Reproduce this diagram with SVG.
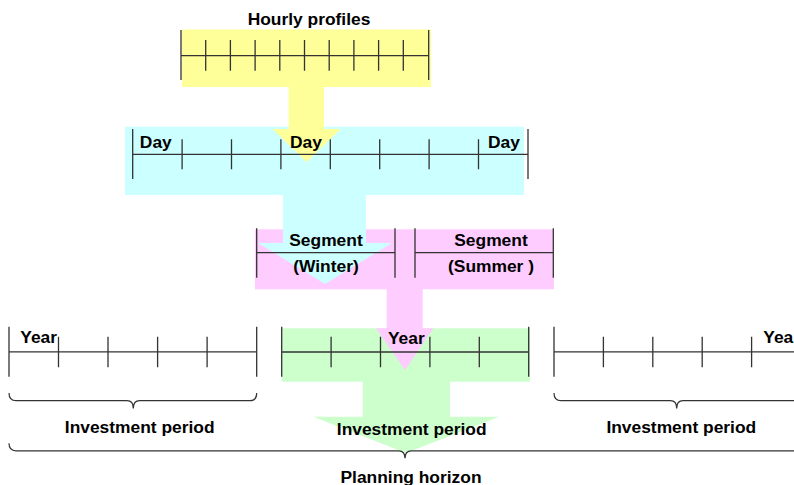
<svg xmlns="http://www.w3.org/2000/svg" width="794" height="485" viewBox="0 0 794 485">
<style>
.ln{stroke:#333;stroke-width:1.3;fill:none}
.br{stroke:#333;stroke-width:1.2;fill:none}
.t{font-family:"Liberation Sans",Arial,sans-serif;font-weight:bold;font-size:17.4px;fill:#000;text-anchor:middle}
.s{text-anchor:start}
</style>
<rect width="794" height="485" fill="#fff"/>
<g id="bands">
<rect x="281.7" y="328.3" width="248.3" height="53.4" fill="#CCFFCC"/>
<rect x="255" y="229.3" width="299" height="60" fill="#FFCCFF"/>
<rect x="125" y="126.7" width="399" height="68.3" fill="#CCFFFF"/>
<rect x="182" y="29.5" width="249" height="57.5" fill="#FFFF99"/>
</g>
<g id="connectors">
<polygon points="362.7,381 450,381 450,416.7 499.3,416.7 406,453 313.3,416.7 362.7,416.7" fill="#CCFFCC"/>
<polygon points="386.7,289 422.7,289 422.7,328.3 433.3,328.3 405,370 376,328.3 386.7,328.3" fill="#FFCCFF"/>
<polygon points="283,194.5 366,194.5 366,243 392,243 325,284 258,243 283,243" fill="#CCFFFF"/>
<polygon points="288.7,86.5 324,86.5 324,129 340.7,129 306.5,162 272.7,129 288.7,129" fill="#FFFF99"/>
</g>
<g id="hourly">
<path class="ln" d="M181,30V80M428.7,30V80M181,55.7H428.7M205.7,40V70.7M230.4,40V70.7M255.1,40V70.7M279.8,40V70.7M304.5,40V70.7M329.2,40V70.7M353.9,40V70.7M378.6,40V70.7M403.3,40V70.7"/>
<text class="t" x="309" y="25">Hourly profiles</text>
</g>
<g id="day">
<path class="ln" d="M132.7,129V179M528,129V179M132.7,154.3H528M182.1,139.3V169.3M231.5,139.3V169.3M280.9,139.3V169.3M330.3,139.3V169.3M379.7,139.3V169.3M429.1,139.3V169.3M478.5,139.3V169.3"/>
<text class="t" x="155.8" y="148">Day</text>
<text class="t" x="306" y="148">Day</text>
<text class="t" x="504" y="148">Day</text>
</g>
<g id="segment-winter">
<path class="ln" d="M256.7,228.3V277.7M395,228.3V277.7M256.7,252.7H395"/>
<text class="t" x="326" y="246">Segment</text>
<text class="t" x="326" y="272">(Winter)</text>
</g>
<g id="segment-summer">
<path class="ln" d="M415,228.3V277.7M553.3,228.3V277.7M415,252.7H553.3"/>
<text class="t" x="491" y="246">Segment</text>
<text class="t" x="491" y="272">(Summer )</text>
</g>
<g id="years-1">
<path class="ln" d="M9,326.7V376.7M256.7,326.7V376.7M9,351.9H256.7M58.5,336.7V367.3M108,336.7V367.3M157.6,336.7V367.3M207.1,336.7V367.3"/>
<text class="t" x="38.7" y="343.3">Year</text>
</g>
<g id="years-2">
<path class="ln" d="M281.7,326.7V376.7M528.7,326.7V376.7M281.7,352H528.7M331.1,336.7V367.3M380.5,336.7V367.3M429.9,336.7V367.3M479.3,336.7V367.3"/>
<text class="t" x="406.3" y="344">Year</text>
</g>
<g id="years-3">
<path class="ln" d="M554,326.7V376.7M801,326.7V376.7M554,351.9H801M603.4,336.7V367.3M652.8,336.7V367.3M702.2,336.7V367.3M751.6,336.7V367.3"/>
<text class="t s" x="763.3" y="343.3">Year</text>
</g>
<g id="investment-1">
<path class="br" d="M9,393Q9,400.7 16,400.7H127Q133.3,400.7 133.3,408.5Q133.3,400.7 139.6,400.7H249.7Q256.7,400.7 256.7,393"/>
<text class="t" x="139.7" y="433">Investment period</text>
</g>
<g id="investment-2">
<text class="t" x="411.7" y="434.5">Investment period</text>
</g>
<g id="investment-3">
<path class="br" d="M554,393Q554,400.7 561,400.7H670.4Q676.7,400.7 676.7,408.5Q676.7,400.7 683,400.7H792.4Q799.4,400.7 799.4,393"/>
<text class="t" x="681.3" y="433">Investment period</text>
</g>
<g id="planning-horizon">
<path class="br" d="M9,443.3Q9,450.8 16,450.8H398.7Q405,450.8 405,458.3Q405,450.8 411.3,450.8H794Q801,450.8 801,443.3"/>
<text class="t" x="411" y="482.5">Planning horizon</text>
</g>
</svg>
